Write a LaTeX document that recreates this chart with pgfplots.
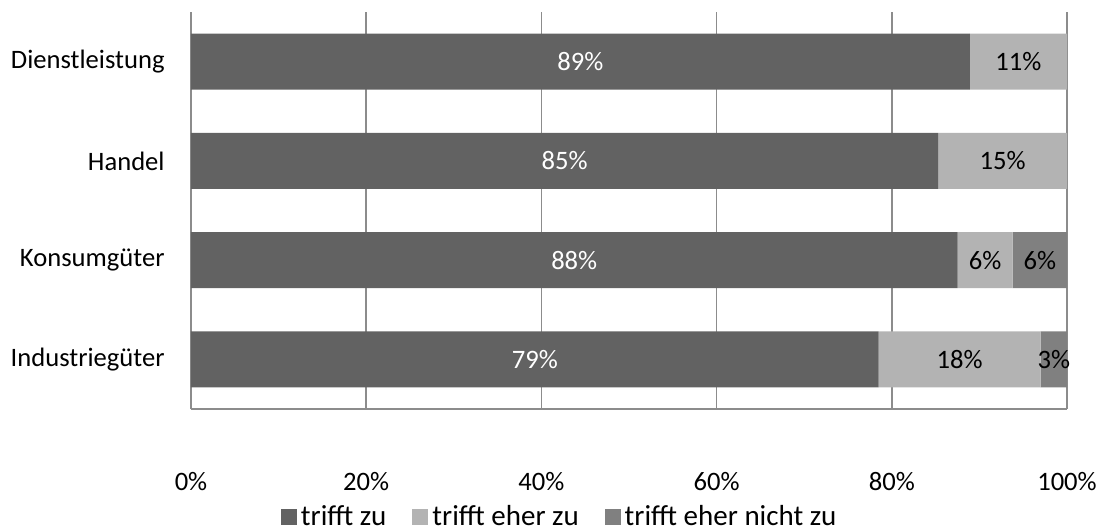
\documentclass[border=0pt]{standalone}
\usepackage{pgfplots}
\pgfplotsset{compat=1.18}
\usepackage{pgfplotstable}
\usepackage{fontspec}
\setmainfont{Carlito}
\definecolor{cA}{HTML}{626262}
\definecolor{cB}{HTML}{B3B3B3}
\definecolor{cC}{HTML}{808080}
\definecolor{gridc}{HTML}{8C8C8C}

\pgfplotstableread[col sep=comma]{
y,x,lab
0,78.5,79\%
1,87.5,88\%
2,85.3,85\%
3,88.9,89\%
}\tzu
\pgfplotstableread[col sep=comma]{
y,x,lab
0,18.5,18\%
1,6.3,6\%
2,14.7,15\%
3,11.1,11\%
}\teher
\pgfplotstableread[col sep=comma]{
y,x,lab
0,3.0,3\%
1,6.2,6\%
2,0,
3,0,
}\tnicht

\begin{document}
\begin{tikzpicture}
\path[use as bounding box] (0,0) rectangle (552pt,265.5pt);
\begin{axis}[
  at={(95.5pt,61pt)}, anchor=south west,
  scale only axis, width=438pt, height=198.5pt,
  xbar stacked, bar width=28pt,
  xmin=0, xmax=100, ymin=-0.5, ymax=3.5,
  ytick={0,1,2,3},
  yticklabels={Industriegüter,Konsumgüter,Handel,Dienstleistung},
  xtick={0,20,40,60,80,100},
  xticklabels={0\%,20\%,40\%,60\%,80\%,100\%},
  axis x line=bottom, axis y line=left,
  axis line style={gridc, line width=0.8pt, -},
  xmajorgrids, grid style={gridc, line width=0.8pt},
  major tick length=0pt,
  tick label style={font=\fontsize{13.3}{15}\selectfont},
  yticklabel style={anchor=east, inner sep=0pt, xshift=-13pt},
  xticklabel style={anchor=center, inner sep=0pt, yshift=-36.5pt},
  legend style={at={(0.422,-0.272)}, anchor=center, draw=none,
    legend columns=-1, font=\fontsize{14.5}{16}\selectfont,
    /tikz/every even column/.append style={column sep=11pt}},
  legend image code/.code={\fill[#1,draw=none] (0pt,-4pt) rectangle (8pt,4pt);},
  nodes near coords={\pgfplotspointmeta},
  point meta=explicit symbolic,
  every node near coord/.append style={anchor=center,
    font=\fontsize{13.3}{15}\selectfont},
]
\addplot[fill=cA, draw=none, nodes near coords style={text=white}] table[x=x,y=y,meta=lab]{\tzu};
\addplot[fill=cB, draw=none, nodes near coords style={text=black}] table[x=x,y=y,meta=lab]{\teher};
\addplot[fill=cC, draw=none, nodes near coords style={text=black}] table[x=x,y=y,meta=lab]{\tnicht};
\legend{trifft zu, trifft eher zu, trifft eher nicht zu}
\end{axis}
\end{tikzpicture}
\end{document}
